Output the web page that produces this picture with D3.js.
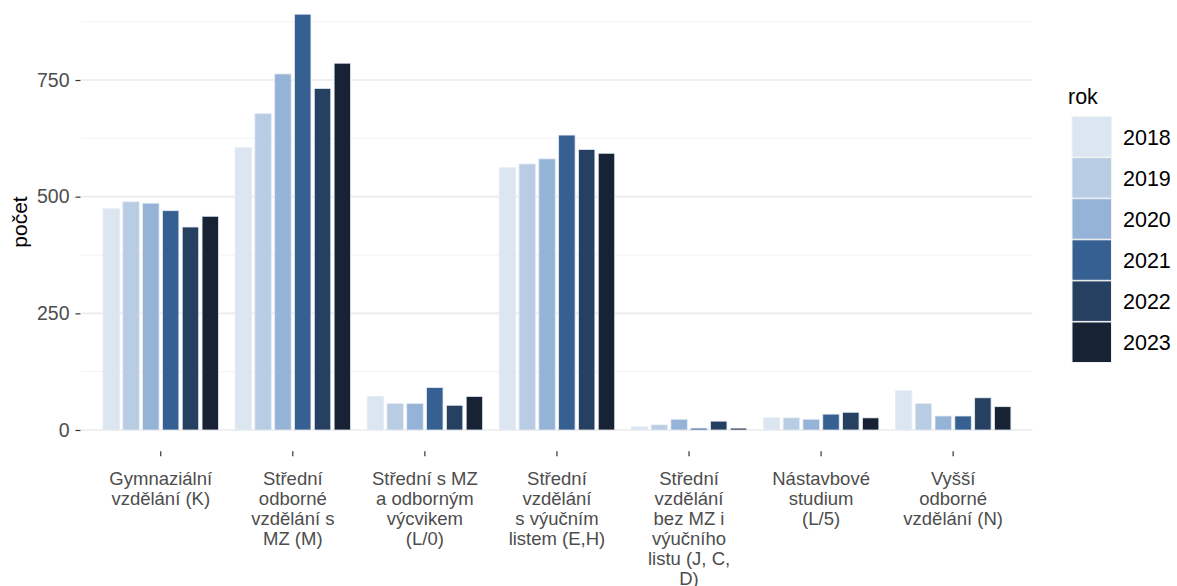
<!DOCTYPE html>
<html>
<head>
<meta charset="utf-8">
<script src="https://cdn.jsdelivr.net/npm/d3@7"></script>
<style>
  body { margin: 0; background: #fff; }
  svg text { font-family: "Liberation Sans", Arial, sans-serif; }
</style>
</head>
<body>
<svg id="chart" width="1177" height="586"></svg>
<script>
var categories = [
  'Gymnaziální\nvzdělání (K)',
  'Střední\nodborné\nvzdělání s\nMZ (M)',
  'Střední s MZ\na odborným\nvýcvikem\n(L/0)',
  'Střední\nvzdělání\ns výučním\nlistem (E,H)',
  'Střední\nvzdělání\nbez MZ i\nvýučního\nlistu (J, C,\nD)',
  'Nástavbové\nstudium\n(L/5)',
  'Vyšší\nodborné\nvzdělání (N)'
];
var years = ['2018', '2019', '2020', '2021', '2022', '2023'];
var colors = ['#dce6f1', '#b8cce4', '#95b3d7', '#366092', '#254061', '#172235'];

// one array per year, in category order
var v2018 = [474, 605, 72, 562, 7, 26, 84];
var v2019 = [489, 678, 57, 570, 11, 26, 57];
var v2020 = [486, 763, 57, 581, 23, 23, 30];
var v2021 = [470, 891, 91, 632, 4, 34, 30];
var v2022 = [435, 732, 53, 601, 19, 38, 69];
var v2023 = [458, 786, 72, 593, 4, 26, 50];
var series = [v2018, v2019, v2020, v2021, v2022, v2023];

var yTicks = [0, 250, 500, 750];
var yMinor = [125, 375, 625, 875];

var svg = d3.select('#chart');
var left = 81.5, right = 1032.4;

var x = d3.scaleBand()
  .domain(d3.range(categories.length))
  .range([left, right])
  .paddingInner(0.1)
  .paddingOuter(0.15);

var xi = d3.scaleBand()
  .domain(years)
  .range([0, x.bandwidth()])
  .paddingInner(0.17)
  .paddingOuter(0.085);

var y = d3.scaleLinear().domain([0, 750]).range([430, 80]);
var yMax = d3.max(series, function(s) { return d3.max(s); });
var bottom = y(-yMax * 0.05);

// grid
var grid = svg.append('g');
grid.selectAll('line.minor').data(yMinor).enter().append('line')
  .attr('x1', left).attr('x2', right)
  .attr('y1', y).attr('y2', y)
  .attr('stroke', '#f2f2f2').attr('stroke-width', 1);
grid.selectAll('line.major').data(yTicks).enter().append('line')
  .attr('x1', left).attr('x2', right)
  .attr('y1', y).attr('y2', y)
  .attr('stroke', '#ebebeb').attr('stroke-width', 1.6);

// bars
var groups = svg.append('g').selectAll('g')
  .data(series).enter().append('g')
  .attr('fill', function(d, i) { return colors[i]; });

groups.each(function(s, si) {
  d3.select(this).selectAll('rect')
    .data(s).enter().append('rect')
    .attr('x', function(d, ci) { return x(ci) + xi(years[si]); })
    .attr('width', xi.bandwidth())
    .attr('y', function(d) { return y(d); })
    .attr('height', function(d) { return y(0) - y(d); })
    .attr('stroke', '#e6ecf4')
    .attr('stroke-width', 0.8);
});

// y axis
var yAxis = d3.axisLeft(y).tickValues(yTicks).tickSize(5).tickPadding(6);
var gy = svg.append('g').attr('transform', 'translate(' + (left - 1) + ',0)').call(yAxis);
gy.select('.domain').remove();
gy.selectAll('.tick line').attr('stroke', '#333').attr('stroke-width', 1.2);
gy.selectAll('.tick text')
  .attr('fill', '#4d4d4d')
  .style('font-size', '19.5px');

// x axis
var xAxis = d3.axisBottom(x).tickSize(5).tickFormat('');
var gx = svg.append('g').attr('transform', 'translate(0,' + (bottom + 0.5) + ')').call(xAxis);
gx.select('.domain').remove();
gx.selectAll('.tick line').attr('stroke', '#333').attr('stroke-width', 1.2);

svg.append('g').selectAll('text')
  .data(categories).enter().append('text')
  .attr('text-anchor', 'middle')
  .attr('fill', '#4d4d4d')
  .style('font-size', '18.5px')
  .attr('transform', function(d, i) {
    return 'translate(' + (x(i) + x.bandwidth() / 2) + ',485)';
  })
  .each(function(d) {
    var t = d3.select(this);
    d.split('\n').forEach(function(line, k) {
      t.append('tspan').attr('x', 0).attr('y', k * 20).text(line);
    });
  });

// y title
svg.append('text')
  .attr('transform', 'translate(27,222) rotate(-90)')
  .attr('text-anchor', 'middle')
  .attr('fill', '#000')
  .style('font-size', '21px')
  .text('počet');

// legend
var legend = svg.append('g').attr('transform', 'translate(1068,0)');
legend.append('text')
  .attr('x', 0).attr('y', 104)
  .style('font-size', '21.5px')
  .attr('fill', '#000')
  .text('rok');

var keys = legend.selectAll('g.key').data(years).enter().append('g')
  .attr('transform', function(d, i) { return 'translate(4,' + (116.5 + i * 41.1) + ')'; });
keys.append('rect')
  .attr('width', 39.5).attr('height', 40.5)
  .attr('fill', function(d, i) { return colors[i]; })
  .attr('stroke', '#f2f2f2').attr('stroke-width', 1);
keys.append('text')
  .attr('x', 51).attr('y', 20.5)
  .attr('dy', '0.35em')
  .style('font-size', '21.5px')
  .attr('fill', '#000')
  .text(function(d) { return d; });
</script>
</body>
</html>
